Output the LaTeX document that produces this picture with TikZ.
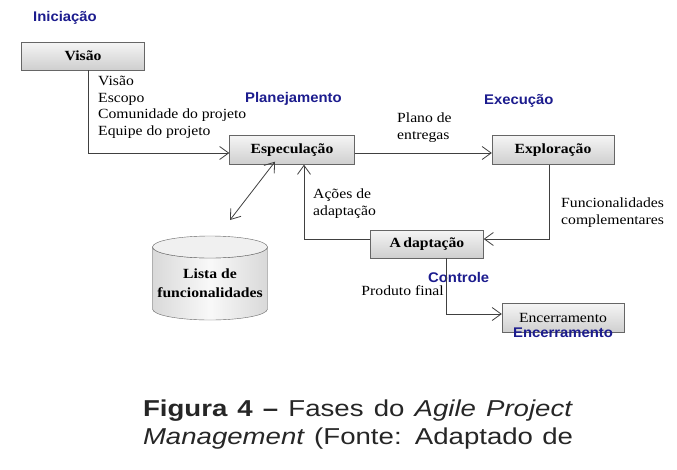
\documentclass[tikz,border=0pt]{standalone}
\usepackage{fontspec}
\usetikzlibrary{arrows.meta,shadings}
\newfontfamily\diafont[FakeStretch=1.12]{Liberation Serif}
\newfontfamily\fasefont[FakeStretch=1.06]{Liberation Sans}
\newfontfamily\legfont[FakeStretch=1.2]{Liberation Sans}
\definecolor{faseazul}{HTML}{1C1C8E}
\tikzset{
	etapa/.style={draw=gray!80!black, top color=gray!8, bottom color=gray!38, inner sep=0pt,
		font=\diafont\fontsize{14}{16.5}\selectfont\bfseries},
	fase/.style={text=faseazul, font=\fasefont\fontsize{14}{16}\selectfont\bfseries, inner sep=0pt},
	rotulo/.style={font=\diafont\fontsize{14}{16.5}\selectfont, align=left, inner sep=0pt},
	seta/.style={draw=black!75, line width=0.8pt, -{Straight Barb[length=9pt,width=13pt]}},
}
\begin{document}
\begin{tikzpicture}[x=1pt,y=-1pt]
			\useasboundingbox[fill=white] (0,0) rectangle (677,469);
			\node[etapa, minimum width=123pt, minimum height=28pt] (visao) at (83,56) {Visão};
			\node[etapa, minimum width=125pt, minimum height=29pt] (espec) at (292,150) {Especulação};
			\node[etapa, minimum width=122pt, minimum height=29pt] (explor) at (553,150) {Exploração};
			\node[etapa, minimum width=113pt, minimum height=28pt] (adapt) at (427,244) {A\,daptação};
			\node[etapa, minimum width=122pt, minimum height=29pt, font=\diafont\fontsize{14}{16.5}\selectfont] (encer) at (563,318) {Encerramento};

			\shade[draw=gray!80!black, left color=gray!30, right color=gray!30, middle color=gray!5]
				(152.5,247) -- (152.5,309) arc[start angle=180, end angle=0, x radius=57.5, y radius=11] -- (267.5,247)
				arc[start angle=0, end angle=180, x radius=57.5, y radius=11] -- cycle;
			\draw[draw=gray!80!black, fill=gray!12] (210,247) ellipse[x radius=57.5, y radius=11];
			\node[rotulo, align=center, font=\diafont\fontsize{14}{19}\selectfont\bfseries] (lista) at (210,283) {Lista de\\funcionalidades};
			\coordinate (listatopo) at (230,220);

			\node[fase, anchor=west] (iniciacao) at (33,18) {Iniciação};
			\node[fase, anchor=west] (planej) at (245,99) {Planejamento};
			\node[fase, anchor=west] (execucao) at (484,101) {Execução};
			\node[fase, anchor=west] (controle) at (428,277) {Controle};
			\node[fase, anchor=west] (encfase) at (513,333) {Encerramento};

			\node[rotulo, anchor=north west] (entradas) at (98,76) {Visão\\Escopo\\Comunidade do projeto\\Equipe do projeto};
			\node[rotulo, anchor=north west] (plano) at (397,113) {Plano de\\entregas};
			\node[rotulo, anchor=north west] (funcs) at (561,198) {Funcionalidades\\complementares};
			\node[rotulo, anchor=north west] (acoes) at (313,189) {Ações de\\adaptação};
			\node[rotulo, anchor=east] (produto) at (444,291) {Produto final};

			\draw[seta] ([xshift=5pt]visao.south) |- ([yshift=-3pt]espec.west);
			\draw[seta] ([yshift=-3pt]espec.east) -- ([yshift=-3pt]explor.west);
			\draw[seta] ([xshift=-4pt]explor.south) |- ([yshift=5pt]adapt.east);
			\draw[seta] ([yshift=5pt]adapt.west) -| ([xshift=12pt]espec.south);
			\draw[seta, {Straight Barb[length=9pt,width=13pt]}-{Straight Barb[length=9pt,width=13pt]}] ([xshift=-17pt,yshift=3pt]espec.south) -- (listatopo);
			\draw[seta] ([xshift=19pt]adapt.south) |- ([yshift=4pt]encer.west);

			\node[font=\legfont\fontsize{23}{28}\selectfont, text=black!85, align=center, inner sep=0pt] (legenda) at (358,425)
				{\makebox[430pt][s]{\textbf{Figura 4 –} Fases do \textit{Agile Project}}\\\makebox[430pt][s]{\textit{Management} (Fonte: Adaptado de}};
\end{tikzpicture}
\end{document}
